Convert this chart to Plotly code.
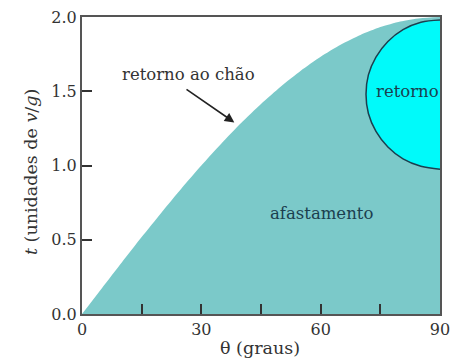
import plotly.graph_objects as go

# Flight-time curve (upper boundary of the shaded area)
theta = [0, 5, 10, 15, 20, 25, 30, 35, 40, 45, 50, 55, 60, 65, 70, 75, 80, 85, 90]
t_total = [0.0, 0.174, 0.347, 0.518, 0.684, 0.845, 1.00, 1.147, 1.286, 1.414, 1.532, 1.638,
           1.732, 1.813, 1.879, 1.932, 1.970, 1.992, 2.0]

# "retorno" region boundary (upper branch then lower branch)
ret_theta = [90, 85.2, 80.7, 76.9, 73.9, 72.0, 71.4, 72.0, 73.9, 76.9, 80.7, 85.2, 90]
ret_t = [1.98, 1.965, 1.915, 1.835, 1.73, 1.61, 1.48, 1.35, 1.23, 1.125, 1.045, 0.995, 0.975]

x_tickvals = [0, 15, 30, 45, 60, 75, 90]
x_ticktext = ["0", "", "30", "", "60", "", "90"]
y_tickvals = [0.0, 0.5, 1.0, 1.5, 2.0]
y_ticktext = ["0.0", "0.5", "1.0", "1.5", "2.0"]

FILL = "#7BC9C9"
CYAN = "#00FAFA"
DARK = "#333333"
FONT = "DejaVu Serif"

fig = go.Figure()
fig.add_trace(go.Scatter(
    x=theta, y=t_total, mode="lines", line=dict(color=FILL, width=0, shape="spline", smoothing=0.6),
    fill="tozeroy", fillcolor=FILL, hoverinfo="skip", showlegend=False))
fig.add_trace(go.Scatter(
    x=ret_theta, y=ret_t, mode="lines", line=dict(color="#1B3F4F", width=1.5, shape="spline"),
    fill="toself", fillcolor=CYAN, hoverinfo="skip", showlegend=False))

fig.add_annotation(x=26.8, y=1.61, text="retorno ao chão", showarrow=False,
                   font=dict(family=FONT, size=16.5, color=DARK))
fig.add_annotation(x=38.3, y=1.29, ax=25.9, ay=1.52, xref="x", yref="y", axref="x", ayref="y",
                   text="", showarrow=True, arrowhead=2, arrowsize=1.2, arrowwidth=1.6,
                   arrowcolor="#222222")
fig.add_annotation(x=81.9, y=1.50, text="retorno", showarrow=False,
                   font=dict(family=FONT, size=16.5, color="#1B3F4F"))
fig.add_annotation(x=60.3, y=0.68, text="afastamento", showarrow=False,
                   font=dict(family=FONT, size=16.5, color="#1B3F4F"))

# axis titles
fig.add_annotation(xref="paper", yref="paper", x=0.497, y=-0.115, text="θ (graus)",
                   xanchor="center", yanchor="middle",
                   showarrow=False, font=dict(family=FONT, size=17.5, color=DARK))
fig.add_annotation(xref="paper", yref="paper", x=-0.1425, y=0.478, textangle=-90,
                   xanchor="center", yanchor="middle",
                   text="<i>t</i> (unidades de <i>v</i>/<i>g</i>)",
                   showarrow=False, font=dict(family=FONT, size=17.5, color=DARK))

axis_common = dict(showgrid=False, zeroline=False, showline=True, linecolor="#555555",
                   linewidth=2, mirror=True, ticks="inside", ticklen=10, tickwidth=1.5,
                   tickcolor="#333333", automargin=False,
                   tickfont=dict(family=FONT, size=16, color=DARK))
fig.update_xaxes(range=[0, 90], tickvals=x_tickvals, ticktext=x_ticktext, **axis_common)
fig.update_yaxes(range=[0, 2.0], tickvals=y_tickvals, ticktext=y_ticktext, **axis_common)

fig.update_layout(width=452, height=362, margin=dict(l=82, r=12, t=17, b=48),
                  plot_bgcolor="white", paper_bgcolor="white",
                  font=dict(family=FONT))
fig.write_html("out.html", config={"displayModeBar": False},
               post_script="document.body.style.margin='0';")
